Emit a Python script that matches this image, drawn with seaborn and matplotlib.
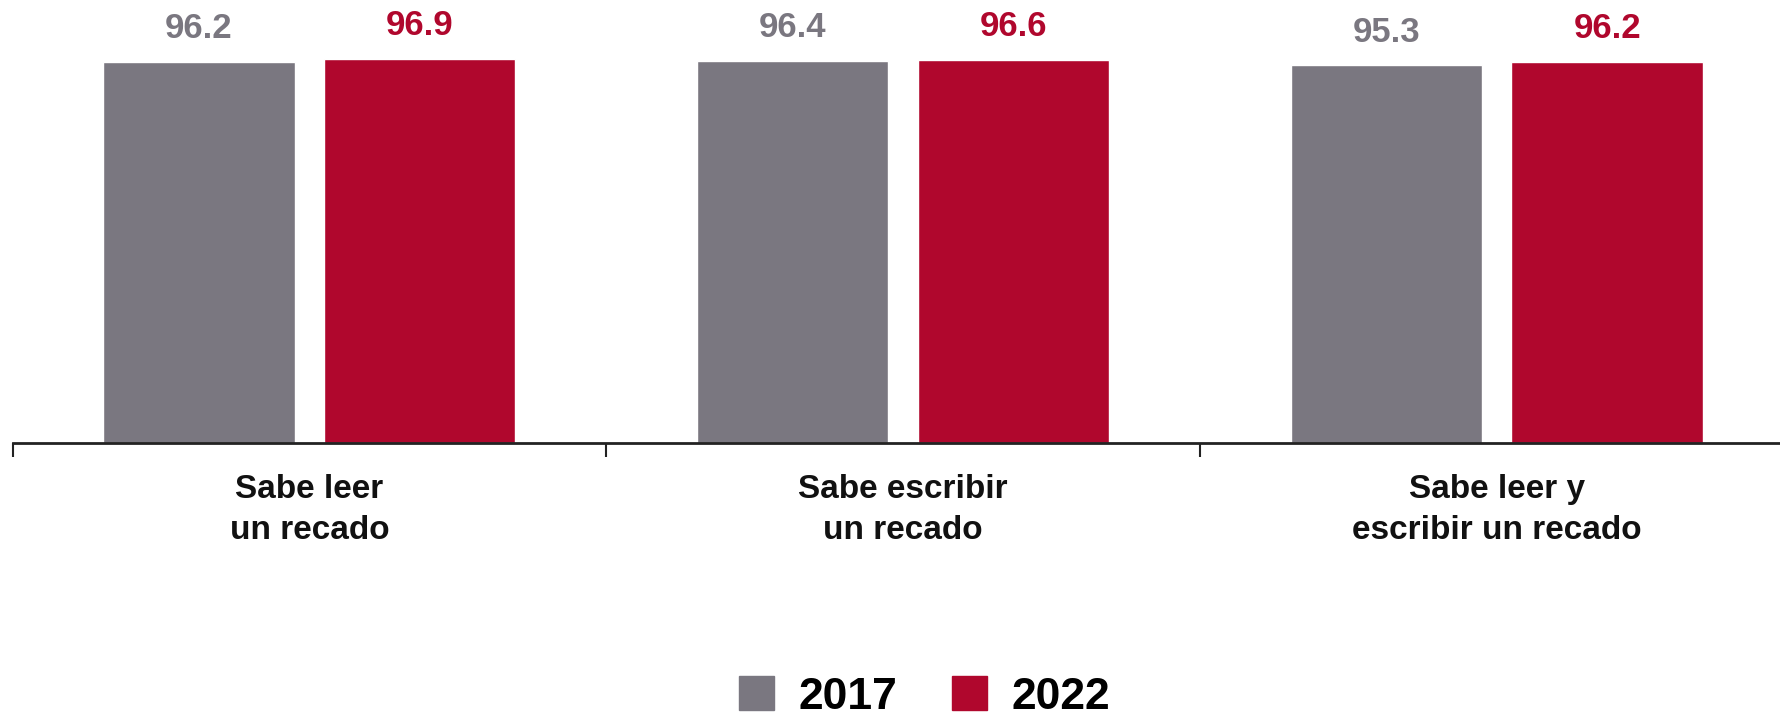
import numpy as np
import pandas as pd
import matplotlib.pyplot as plt
import seaborn as sns

# data
categorias = ["Sabe leer\nun recado", "Sabe escribir\nun recado", "Sabe leer y\nescribir un recado"]
anios = ["2017", "2022"]
valores_2017 = [96.2, 96.4, 95.3]
valores_2022 = [96.9, 96.6, 96.2]
colores = ["#7A7780", "#B0072D"]

df = pd.DataFrame({
    "categoria": categorias * 2,
    "anio": [anios[0]] * 3 + [anios[1]] * 3,
    "valor": valores_2017 + valores_2022,
})

sns.set_style("white")
plt.rcParams['font.family'] = ['Liberation Sans', 'DejaVu Sans']
plt.rcParams['font.weight'] = 'bold'

fig = plt.figure(figsize=(17.81, 7.23), dpi=100)
ax = fig.add_axes([12.5 / 1781, (723 - 443) / 723, 1781 / 1781, (443 - 7) / 723])

sns.barplot(data=df, x="categoria", y="valor", hue="anio", palette=colores,
            width=0.744, gap=0.134, ax=ax, legend=False, saturation=1)

# value labels
for cont, col in zip(ax.containers, colores):
    ax.bar_label(cont, fmt="%.1f", padding=12, fontsize=25, fontweight='bold', color=col)

ax.set_ylim(0, 110)
ax.set_xlim(-0.5, 2.5)
ax.set_xlabel("")
ax.set_ylabel("")
ax.set_yticks([])

for s in ["top", "right", "left"]:
    ax.spines[s].set_visible(False)
ax.spines["bottom"].set_linewidth(2)
ax.spines["bottom"].set_color("#222222")

ax.set_xticks([0, 1, 2])
ax.set_xticklabels(categorias, fontsize=24, fontweight='bold', color="#111111", linespacing=1.45)
ax.tick_params(axis='x', which='major', length=0, pad=22)
ax.set_xticks([-0.5, 0.5, 1.5, 2.5], minor=True)
ax.tick_params(axis='x', which='minor', bottom=True, length=10, width=1.5, color="#222222", direction='out')

# legend
handles = [plt.Rectangle((0, 0), 1, 1, color=c) for c in colores]
leg = fig.legend(handles, anios, loc='center', bbox_to_anchor=(814 / 1568, 1 - 697 / 723), ncol=2,
                 frameon=False, prop={'size': 32, 'weight': 'bold'},
                 handlelength=0.78, handleheight=0.78, handletextpad=0.55, columnspacing=1.25,
                 borderpad=0.1)
for t in leg.get_texts():
    t.set_color("black")

fig.savefig("out.png", dpi=100)
